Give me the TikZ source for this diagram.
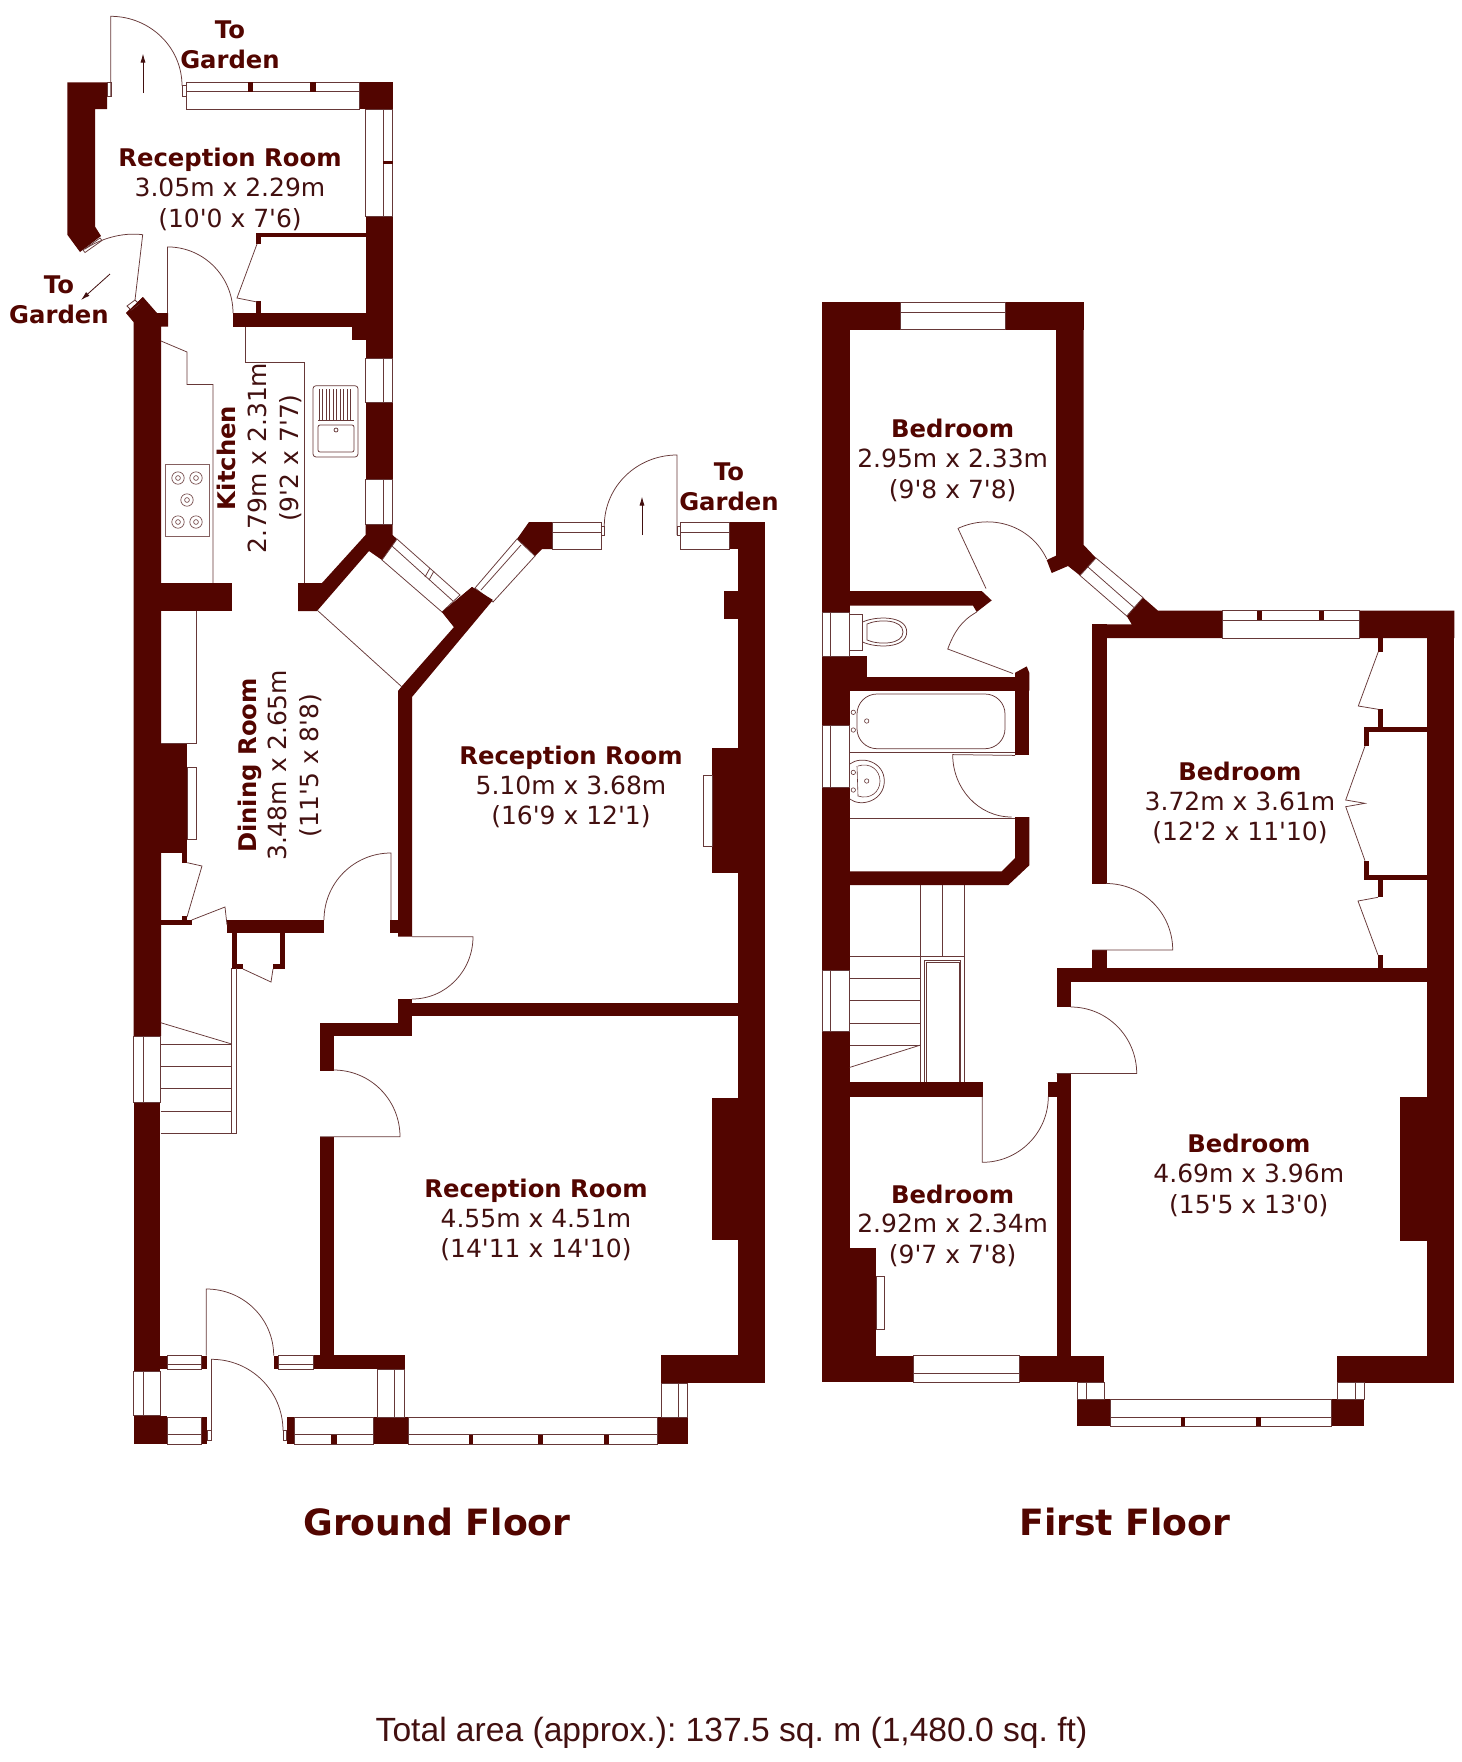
\documentclass[tikz,border=0pt]{standalone}
\usepackage{fontspec}
\setmainfont{DejaVu Sans}[Ligatures=TeXOff]
\newfontfamily\arealfont{Liberation Sans}
\usetikzlibrary{arrows.meta}
\definecolor{wallc}{HTML}{520500}
\definecolor{linec}{HTML}{663838}
\definecolor{txtc}{HTML}{421010}
\tikzset{
  wall/.style={fill=wallc,draw=none},
  thin line/.style={draw=linec,line width=0.75pt},
  win/.style={draw=linec,line width=0.75pt,fill=white},
  lblbold/.style={inner sep=0,text height=18pt,text depth=0pt,text=wallc,font=\fontsize{24.3}{28}\selectfont\bfseries},
  lblreg/.style={inner sep=0,text height=18pt,text depth=0pt,text=txtc,font=\fontsize{25}{28}\selectfont},
  lbltitle/.style={inner sep=0,text=wallc,font=\fontsize{36.2}{40}\selectfont\bfseries},
  arrowline/.style={draw=txtc,line width=0.8pt,-{Latex[length=9pt,width=5pt]}},
}
\begin{document}
\begin{tikzpicture}[x=1pt,y=-1pt]
\path[use as bounding box,fill=white] (0,0) rectangle (1462,1762);
% ===== GROUND FLOOR walls =====
\fill[wall] (67.3,82.4)--(107,82.4)--(107,109)--(95,109)--(95,226.5)--(101,236)--(80,252)--(67.3,234.7)--cycle;
\foreach \a/\b/\c/\d in {359/82.4/392.5/109.4, 365.5/216/392.5/358, 352/326.5/365.5/340, 365.5/402/392.5/479,
  257/232.6/365.5/236.7, 256/232.6/261/244, 256/301/261/313, 233/313/365.5/326.5,
  161/583/232/611, 161/744/187/853, 182.3/853/187.3/862.7, 182.3/916/187.3/920, 161/920/191.7/925,
  390/920/398/933, 227/920/324/933, 232/933/237/968, 232/964/243/969, 280/933/285/968, 273/964/285/969,
  398/999/412/1036, 320/1023/412/1036, 412/1002.7/738/1016, 320/1036/333.5/1070.7, 320/1136.7/333.5/1355,
  313.4/1355/404.5/1369, 738/522/765/1383, 729/522/765/549, 724/591/738/619, 712/748/738/873,
  711.6/1097.7/738/1240, 660.7/1355/765/1382.7, 657/1417/687.5/1444, 373/1417/408/1444,
  133.5/1102.7/160.3/1371, 160/1355.7/167/1369, 201.8/1355.7/207/1369, 273.7/1355.7/278.6/1369,
  133.5/1415.7/167/1444, 201.8/1417/207/1444, 286.6/1417/294/1444}
  {\fill[wall] (\a,\b) rectangle (\c,\d);}
\fill[wall] (365.5,524)--(392.5,524)--(392.5,535)--(397,539)--(382,560)--(369,551)--(317,611)--(298,611)--(298,583)--(322,583)--(365.5,535)--cycle;
\fill[wall] (126,313)--(143,297)--(157,313)--(168,313)--(168,326.5)--(161,326.5)--(161,1036)--(133.5,1036)--(133.5,322)--cycle;
\fill[wall] (398,691)--(402,686)--(454,627)--(442,612)--(472,587)--(493,600)--(412,697)--(412,936.7)--(398,936.7)--cycle;
\fill[wall] (517,539)--(529,522)--(552,522)--(552,549)--(542,549)--(535,556)--cycle;
% windows
\foreach \a/\b/\c/\d in {186/82.4/359/109.4, 365.5/109.4/392.5/216, 365.5/358/392.5/402, 365.5/479/392.5/524,
  552/522/601/549, 680/522/729/549, 133.5/1036/160.3/1102.7, 133.5/1371/160.3/1415.7,
  167/1355.7/201.8/1369, 278.6/1355.7/313.4/1369, 167/1417/201.8/1444, 294/1417/373/1444,
  377.7/1369/404.5/1417, 408/1417/657/1444, 661/1383/687.5/1417}
  {\draw[win] (\a,\b) rectangle (\c,\d);}
\draw[thin line] (186,91.8)--(359,91.8) (383.3,109.4)--(383.3,216) (383.3,358)--(383.3,402) (383.3,479)--(383.3,524);
\draw[thin line] (552,532)--(601,532) (680,532)--(729,532) (143,1036)--(143,1102.7) (143,1371)--(143,1415.7);
\draw[thin line] (167,1364)--(201.8,1364) (278.6,1364)--(313.4,1364) (167,1434.7)--(201.8,1434.7) (294,1434.7)--(373,1434.7);
\draw[thin line] (394.6,1369)--(394.6,1417) (408,1434.7)--(657,1434.7) (678.6,1383)--(678.6,1417);
\foreach \a/\b/\c/\d in {248/82.4/253/91.8, 310/82.4/316/91.8, 383.3/161/392.5/164, 331/1434.7/336.6/1444,
  468.5/1434.7/473/1444, 538/1434.7/542.5/1444, 604/1434.7/608.5/1444}
  {\fill[wall] (\a,\b) rectangle (\c,\d);}
\draw[win] (475,588)--(517,539)--(535,556)--(493,602)--cycle;
\draw[thin line] (481,590)--(521,545);
\draw[win] (397,539)--(460,595)--(442,612)--(382,560)--cycle;
\draw[thin line] (392,546)--(453,601) (425,577)--(430,568) (429,580)--(434,571);
\fill[wall] (442,612)--(472,587)--(493,600)--(454,627)--cycle;
\draw[thin line] (317,610)--(402,687);
% doors
\draw[win] (107,82.4) rectangle (111,96.3) (182,85.7) rectangle (186,96.3) (601,526) rectangle (604.3,535) (677,526) rectangle (680,535)
  (207,1430.7) rectangle (211.6,1440) (283,1430.7) rectangle (286.6,1440);
\draw[thin line] (110.7,96.3)--(110.7,16.3) to[out=0,in=90] (182,85.7);
\draw[thin line] (677,535)--(677,455) to[out=180,in=90] (604.3,526);
\draw[thin line] (167.5,313)--(167.5,246.9) to[out=0,in=90] (233,313);
\draw[win] (83,250)--(100,238)--(102,240.5)--(85,252.5)--cycle;
\draw[thin line] (85,249) .. controls (100,239) and (122,232) .. (142.7,234.7)--(135,300);
\draw[win] (127,306)--(135,300)--(139,304)--(131,310)--cycle;
\fill[wall] (127,313)--(131,310)--(139,304)--(143,297)--(126,313)--cycle;
\draw[thin line] (257,244)--(237,298)--(257,302);
\draw[thin line] (391,920)--(391,853) to[out=180,in=90] (324,920);
\draw[thin line] (412,936.7)--(473,936.7) to[out=-90,in=0] (412,999);
\draw[thin line] (187.3,862.7)--(202,866)--(187,917);
\draw[thin line] (191.7,920)--(225,907)--(227,925);
\draw[thin line] (243,969)--(271,982)--(273,969);
\draw[thin line] (320,1136.7)--(400,1136.7) to[out=90,in=0] (333.5,1070);
\draw[thin line] (206.3,1355.7)--(206.3,1289) to[out=0,in=90] (273.7,1355.7);
\draw[thin line] (211.6,1440)--(211.6,1359.3) to[out=0,in=90] (283,1430.7);
% kitchen fittings
\draw[thin line] (161,341)--(187,352)--(187,384.5)--(213,384.5)--(213,583);
\draw[thin line] (245,326.5)--(245,362)--(304,362)--(304,583);
\draw[thin line] (196,611)--(196,743.5)--(161,743.5);
\draw[thin line] (187,767) rectangle (196,839);
\draw[thin line] (712,775) rectangle (703,846);
\draw[thin line,rounded corners=3pt] (313,385.7) rectangle (358,457);
\draw[thin line,rounded corners=2pt] (318,425) rectangle (354,452);
\foreach \x in {319,322.5,...,352} {\draw[draw=linec,line width=0.6pt] (\x,389)--(\x,420);}
\draw[draw=linec,line width=0.6pt] (318,420)--(354,420);
\draw[thin line] (336,430) circle [radius=2];
\draw[thin line,draw=linec!80] (165,464.5) rectangle (209,536);
\foreach \x/\y in {178/478, 196/478, 187/500, 178/522, 196/522}
  {\draw[draw=linec,line width=0.6pt] (\x,\y) circle [radius=6.2] (\x,\y) circle [radius=2.4];}
% stairs
\foreach \y in {1044,1066.7,1088.7,1111.3,1133.3} {\draw[thin line] (160.7,\y)--(231.7,\y);}
\draw[thin line] (160.7,1022.7)--(231.7,1044);
\draw[thin line] (231.7,968)--(231.7,1133.3) (236.7,968)--(236.7,1133.3)--(231.7,1133.3);
% arrows
\draw[arrowline] (143,93)--(143,53.5);
\draw[arrowline] (642,535)--(642,496.5);
\draw[arrowline] (110,274)--(81,300);
% ===== FIRST FLOOR walls =====
\foreach \a/\b/\c/\d in {822/302/1083.7/329.5, 822/302/849.7/1382.4, 822/656/866.7/677, 822/677/1029.3/690.5,
  1015/677/1029.3/755.4, 849/1082/982.7/1096.5, 1048.3/1082/1056.7/1096.5, 1056.7/1073.5/1070.7/1355.6,
  1056.7/968.3/1070.7/1007, 1056.7/968.3/1454.3/982.3, 1092.3/950/1106.7/968.3, 1092.3/624.3/1106.7/883.5,
  1426.7/610.7/1454.3/1382.7, 1400/1097.3/1426.7/1240.7, 1336.7/1355.7/1454.3/1382.7,
  822/1355.6/1104.3/1382.4, 849.7/1248.4/876/1355.6, 1077.3/1399.4/1110/1426, 1331.7/1399.4/1364/1426,
  1377.7/638/1382.7/651.7, 1377.7/709.3/1382.7/727, 1364.3/726.7/1426.7/731.7, 1364.3/726.7/1369.3/746,
  1364.3/860.7/1369.3/880, 1364.3/875.3/1426.7/880, 1377.7/880/1382.7/897.3, 1377.7/955/1382.7/968.3}
  {\fill[wall] (\a,\b) rectangle (\c,\d);}
\fill[wall] (1046.7,560)--(1056,555.7)--(1056,329.5)--(1083.7,329.5)--(1083.7,545)--(1096,558)--(1080,575.5)--(1068,566)--(1051.7,573)--cycle;
\fill[wall] (822,591)--(981.7,591)--(991.7,600.4)--(976.7,612)--(973,605.6)--(822,605.6)--cycle;
\fill[wall] (1015,672.8)--(1026.7,666.4)--(1029.3,672.8)--(1029.3,690.5)--(1015,690.5)--cycle;
\fill[wall] (1015,817)--(1029.3,817)--(1029.3,865.3)--(1008.3,885)--(849.7,885)--(849.7,871.3)--(1001.7,871.3)--(1015,858.2)--cycle;
\fill[wall] (1126.7,616)--(1143,597.6)--(1158,610.7)--(1454.3,610.7)--(1454.3,638)--(1106.7,638)--(1106.7,640)--(1092.3,640)--(1092.3,624.3)--(1131.7,624.3)--cycle;
% first floor windows
\foreach \a/\b/\c/\d in {900/302/1005.7/329.5, 822.7/612/849.3/656, 822.7/725/849.3/787, 822.7/970/849/1031.5,
  1222.3/610.7/1359.3/638, 913.3/1355.6/1019.3/1382.4, 1077.3/1382.7/1104/1399.4, 1337.3/1382.7/1364/1399.4,
  1110/1399.4/1331.7/1426}
  {\draw[win] (\a,\b) rectangle (\c,\d);}
\draw[thin line] (900,312)--(1005.7,312) (830.7,612)--(830.7,656) (830.7,725)--(830.7,787) (830.7,970)--(830.7,1031.5);
\draw[thin line] (1222.3,620)--(1359.3,620) (913.3,1373.6)--(1019.3,1373.6) (1086,1382.7)--(1086,1399.4) (1355,1382.7)--(1355,1399.4) (1110,1417.3)--(1331.7,1417.3);
\foreach \a/\b/\c/\d in {1256.7/610.7/1262/620, 1319.3/610.7/1324/620, 1180.7/1417.3/1185.3/1426, 1256/1417.3/1261/1426}
  {\fill[wall] (\a,\b) rectangle (\c,\d);}
\draw[win] (1096,558)--(1143,597.6)--(1126.7,616)--(1080,575.5)--cycle;
\draw[thin line] (1088,567)--(1134,607.5);
% first floor doors
\draw[thin line] (986,588.5)--(958,528.4) to[out=25,in=115] (1046.7,559);
\draw[thin line] (1013,673.5)--(947.7,649) to[out=69,in=210] (976.7,612);
\draw[thin line] (1015,755.4)--(952.7,754.6) to[out=-90,in=180] (1011.7,817);
\draw[thin line] (1092.3,950)--(1172.7,950) to[out=90,in=0] (1106,883.5);
\draw[thin line] (1056.7,1073.5)--(1136.7,1073.5) to[out=90,in=0] (1070.7,1007);
\draw[thin line] (982.3,1096.5)--(982.3,1162.3) to[out=0,in=-90] (1048.3,1096.5);
% wardrobe doors
\draw[thin line] (1378.3,651.7)--(1358.3,706)--(1378.3,709.3);
\draw[thin line] (1365,746)--(1345.7,800)--(1365,803.3)--(1345.7,806.7)--(1365,860.7);
\draw[thin line] (1378,897.3)--(1358,901)--(1378,955);
% bathroom fittings
\draw[win] (849.7,614) rectangle (862.7,650.6);
\draw[thin line] (862.7,622) .. controls (875,616) and (906.7,615) .. (906.7,632) .. controls (906.7,649) and (875,648) .. (862.7,642);
\draw[thin line] (867,624) .. controls (878,619) and (903,619) .. (903,632) .. controls (903,645) and (878,645) .. (867,640)--cycle;
\draw[thin line,rounded corners=20pt] (857,694) rectangle (1005,748.7);
\foreach \x/\y in {853.3/712.3, 853.3/730, 866.7/721, 853.3/772.4, 853.3/790, 866.7/781}
  {\draw[draw=linec,line width=0.6pt] (\x,\y) circle [radius=2.2];}
\draw[thin line] (849.7,752)--(1015,752) (849.7,818)--(1015,818);
\draw[thin line] (849.7,764) .. controls (862,755) and (884.3,762) .. (884.3,781) .. controls (884.3,800) and (862,808) .. (849.7,799);
\draw[draw=linec,line width=0.6pt] (858,766) .. controls (870,762) and (880,770) .. (880,781) .. controls (880,792) and (870,800) .. (858,796)--(857,766);
% first floor stairs
\draw[thin line] (920,885)--(920,1082) (942.7,885)--(942.7,956.4) (964.3,885)--(964.3,1082) (849.7,956.4)--(964.3,956.4);
\draw[thin line] (924.3,1082)--(924.3,960)--(960.7,960)--(960.7,1082);
\draw[thin line] (926,1082)--(926,962)--(959,962)--(959,1082);
\foreach \y in {978.6,1000.8,1023.4,1045.2} {\draw[thin line] (849.7,\y)--(920,\y);}
\draw[thin line] (849.7,1067.4)--(920,1045.2);
\draw[thin line] (876,1276) rectangle (884.3,1329);
% ===== labels =====
\node[lblbold] (togA1) at (230,29.6) {To};
\node[lblbold] (togA2) at (230,59.4) {Garden};
\node[lblbold] (togB1) at (59,284) {To};
\node[lblbold] (togB2) at (59,314) {Garden};
\node[lblbold] (togC1) at (729,471) {To};
\node[lblbold] (togC2) at (729,501) {Garden};
\node[lblbold] (r1a) at (230,157) {Reception Room};
\node[lblreg] (r1b) at (230,187.5) {3.05m x 2.29m};
\node[lblreg] (r1c) at (230,218) {(10'0 x 7'6)};
\node[lblbold,rotate=90] (k1) at (226,458) {Kitchen};
\node[lblreg,rotate=90] (k2) at (257,458) {2.79m x 2.31m};
\node[lblreg,rotate=90] (k3) at (289,458) {(9'2 x 7'7)};
\node[lblbold,rotate=90] (d1) at (247.5,765.5) {Dining Room};
\node[lblreg,rotate=90] (d2) at (277,765.5) {3.48m x 2.65m};
\node[lblreg,rotate=90] (d3) at (309,765.5) {(11'5 x 8'8)};
\node[lblbold] (r2a) at (571,755.5) {Reception Room};
\node[lblreg] (r2b) at (571,785) {5.10m x 3.68m};
\node[lblreg] (r2c) at (571,815.6) {(16'9 x 12'1)};
\node[lblbold] (r3a) at (536,1188) {Reception Room};
\node[lblreg] (r3b) at (536,1218) {4.55m x 4.51m};
\node[lblreg] (r3c) at (536,1248) {(14'11 x 14'10)};
\node[lblbold] (b1a) at (952.7,428.4) {Bedroom};
\node[lblreg] (b1b) at (952.7,458) {2.95m x 2.33m};
\node[lblreg] (b1c) at (952.7,489) {(9'8 x 7'8)};
\node[lblbold] (b2a) at (1240,771.7) {Bedroom};
\node[lblreg] (b2b) at (1240,801) {3.72m x 3.61m};
\node[lblreg] (b2c) at (1240,831.7) {(12'2 x 11'10)};
\node[lblbold] (b3a) at (1248.8,1143) {Bedroom};
\node[lblreg] (b3b) at (1248.8,1173) {4.69m x 3.96m};
\node[lblreg] (b3c) at (1248.8,1204) {(15'5 x 13'0)};
\node[lblbold] (b4a) at (952.7,1194) {Bedroom};
\node[lblreg] (b4b) at (952.7,1223.6) {2.92m x 2.34m};
\node[lblreg] (b4c) at (952.7,1254) {(9'7 x 7'8)};
\node[lbltitle] (gf) at (437,1521.7) {Ground Floor};
\node[lbltitle] (ff) at (1125,1521.7) {First Floor};
\node[inner sep=0,text=txtc,font=\arealfont\fontsize{33.6}{36}\selectfont] (area) at (731.5,1733) {\frenchspacing Total area (approx.): 137.5 sq. m (1,480.0 sq. ft)};
\end{tikzpicture}
\end{document}
